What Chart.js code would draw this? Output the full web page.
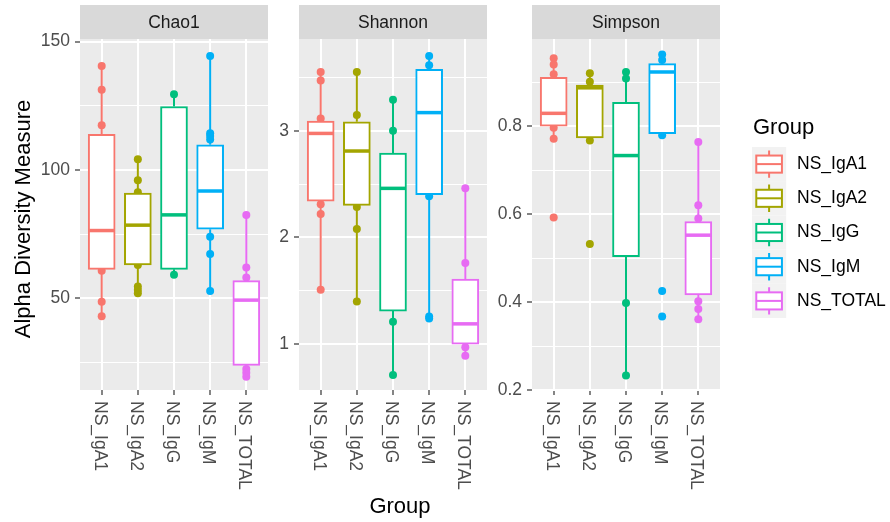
<!DOCTYPE html>
<html>
<head>
<title>Alpha diversity by group</title>
<script src="https://cdn.jsdelivr.net/npm/chart.js@4.4.1/dist/chart.umd.min.js"></script>
<style>
  body { margin: 0; background: #fff; }
  #wrap { position: relative; width: 890px; height: 522px; }
  #wrap canvas { position: absolute; left: 0; top: 0; }
</style>
</head>
<body>
<div id="wrap">
  <canvas id="chao1" width="890" height="522"></canvas>
  <canvas id="shannon" width="890" height="522"></canvas>
  <canvas id="simpson" width="890" height="522"></canvas>
</div>
<script>
const groups = ['NS_IgA1', 'NS_IgA2', 'NS_IgG', 'NS_IgM', 'NS_TOTAL'];
const groupColors = ['#F8766D', '#A3A500', '#00BF7D', '#00B0F6', '#E76BF3'];

// Chao1 box stats (whisker low, Q1, median, Q3, whisker high) per group
const chao1Low = [43.0, 52.0, 59.2, 52.9, 19.5];
const chao1Q1 = [61.3, 63.0, 61.3, 76.9, 23.9];
const chao1Med = [76.4, 78.5, 82.5, 91.8, 49.3];
const chao1Q3 = [113.9, 91.0, 124.7, 109.8, 56.9];
const chao1High = [140.5, 104.2, 129.5, 144.4, 82.5];
const chao1Points = [
  [140.5, 131.2, 117.4, 60.7, 48.7, 43.0],
  [104.2, 96.0, 91.3, 63.0, 54.6, 53.2, 52.0],
  [129.5, 59.2],
  [144.4, 114.3, 113.2, 111.9, 74.0, 67.3, 52.9],
  [82.5, 62.0, 58.1, 22.5, 21.0, 19.5]
];

const shannonLow = [1.51, 1.40, 0.71, 1.24, 0.89];
const shannonQ1 = [2.34, 2.30, 1.31, 2.40, 1.00];
const shannonMed = [2.975, 2.81, 2.46, 3.17, 1.19];
const shannonQ3 = [3.09, 3.084, 2.79, 3.575, 1.61];
const shannonHigh = [3.55, 3.55, 3.29, 3.70, 2.46];
const shannonPoints = [
  [3.55, 3.47, 3.115, 2.31, 2.22, 1.51],
  [3.55, 3.147, 2.285, 2.08, 1.40],
  [3.29, 3.0, 1.21, 0.71],
  [3.70, 3.615, 2.385, 1.26, 1.24],
  [2.46, 1.76, 0.97, 0.89]
];

const simpsonLow = [0.771, 0.767, 0.233, 0.779, 0.361];
const simpsonQ1 = [0.800, 0.773, 0.503, 0.783, 0.416];
const simpsonMed = [0.829, 0.887, 0.733, 0.923, 0.552];
const simpsonQ3 = [0.911, 0.893, 0.854, 0.942, 0.583];
const simpsonHigh = [0.954, 0.920, 0.923, 0.963, 0.764];
const simpsonPoints = [
  [0.954, 0.940, 0.918, 0.796, 0.771, 0.592],
  [0.920, 0.901, 0.767, 0.532],
  [0.923, 0.908, 0.398, 0.233],
  [0.963, 0.950, 0.779, 0.425, 0.367],
  [0.764, 0.620, 0.590, 0.402, 0.384, 0.361]
];

// y gridlines: every value gets a line, only majors get a label and tick mark
const chao1Ticks = [25, 50, 75, 100, 125, 150];
const chao1Major = [50, 100, 150];
const shannonTicks = [1, 1.5, 2, 2.5, 3, 3.5];
const shannonMajor = [1, 2, 3];
const simpsonTicks = [0.2, 0.3, 0.4, 0.5, 0.6, 0.7, 0.8, 0.9];
const simpsonMajor = [0.2, 0.4, 0.6, 0.8];

const FONT = "'Liberation Sans', Arial, sans-serif";
const W = 890;
const PANEL_TOP = 39;
const PANEL_BOTTOM = 390;
const STRIP_TOP = 5;
const BOX_WIDTH = 27;
const SMALL = 17.5;
const TITLE = 22;

// grey panel, strip label, whiskers, medians and rotated category labels
const facetPlugin = {
  id: 'facet',
  beforeDraw(chart, args, opts) {
    const a = chart.chartArea, ctx = chart.ctx;
    ctx.save();
    ctx.fillStyle = '#EBEBEB';
    ctx.fillRect(a.left, a.top, a.right - a.left, a.bottom - a.top);
    ctx.fillStyle = '#D9D9D9';
    ctx.fillRect(a.left, STRIP_TOP, a.right - a.left, a.top - STRIP_TOP);
    ctx.fillStyle = '#1A1A1A';
    ctx.font = SMALL + 'px ' + FONT;
    ctx.textAlign = 'center';
    ctx.textBaseline = 'middle';
    ctx.fillText(opts.strip, (a.left + a.right) / 2, (STRIP_TOP + a.top) / 2 + 1);
    ctx.restore();
  },
  afterDatasetsDraw(chart, args, opts) {
    const x = chart.scales.x, y = chart.scales.y, ctx = chart.ctx;
    const s = opts.stats;
    ctx.save();
    groups.forEach((g, i) => {
      const px = x.getPixelForValue(i + 1);
      ctx.strokeStyle = groupColors[i];
      ctx.lineWidth = 2;
      ctx.beginPath();
      ctx.moveTo(px, y.getPixelForValue(s.q3[i]));
      ctx.lineTo(px, y.getPixelForValue(s.high[i]));
      ctx.moveTo(px, y.getPixelForValue(s.q1[i]));
      ctx.lineTo(px, y.getPixelForValue(s.low[i]));
      ctx.stroke();
      const my = y.getPixelForValue(s.med[i]);
      ctx.lineWidth = 3.5;
      ctx.beginPath();
      ctx.moveTo(px - BOX_WIDTH / 2 + 1, my);
      ctx.lineTo(px + BOX_WIDTH / 2 - 1, my);
      ctx.stroke();
    });
    ctx.restore();
  },
  afterDraw(chart) {
    const x = chart.scales.x, ctx = chart.ctx, a = chart.chartArea;
    ctx.save();
    ctx.font = SMALL + 'px ' + FONT;
    ctx.fillStyle = '#4D4D4D';
    ctx.textAlign = 'left';
    ctx.textBaseline = 'middle';
    groups.forEach((g, i) => {
      ctx.save();
      ctx.translate(x.getPixelForValue(i + 1) - 2, a.bottom + 11);
      ctx.rotate(Math.PI / 2);
      ctx.fillText(g, 0, 0);
      ctx.restore();
    });
    ctx.restore();
  }
};

// axis titles and the group legend
const pageTextPlugin = {
  id: 'pageText',
  afterDraw(chart) {
    const ctx = chart.ctx;
    ctx.save();
    ctx.fillStyle = '#000';
    ctx.font = TITLE + 'px ' + FONT;
    ctx.textAlign = 'center';
    ctx.textBaseline = 'middle';
    ctx.fillText('Group', 400, 507);
    ctx.save();
    ctx.translate(24, 219);
    ctx.rotate(-Math.PI / 2);
    ctx.fillText('Alpha Diversity Measure', 0, 0);
    ctx.restore();

    ctx.textAlign = 'left';
    ctx.fillText('Group', 753, 128);
    const key = 34.2, left = 752, top0 = 147;
    groups.forEach((g, i) => {
      const top = top0 + i * key;
      ctx.fillStyle = '#F2F2F2';
      ctx.fillRect(left, top, key, key);
      const cx = left + key / 2, bx = left + key * 0.125, bw = key * 0.75;
      ctx.strokeStyle = groupColors[i];
      ctx.lineWidth = 2;
      ctx.beginPath();
      ctx.moveTo(cx, top + key * 0.1); ctx.lineTo(cx, top + key * 0.25);
      ctx.moveTo(cx, top + key * 0.75); ctx.lineTo(cx, top + key * 0.9);
      ctx.stroke();
      ctx.fillStyle = '#fff';
      ctx.fillRect(bx, top + key * 0.25, bw, key * 0.5);
      ctx.strokeRect(bx, top + key * 0.25, bw, key * 0.5);
      ctx.beginPath();
      ctx.moveTo(bx, top + key / 2); ctx.lineTo(bx + bw, top + key / 2);
      ctx.stroke();
      ctx.fillStyle = '#000';
      ctx.font = SMALL + 'px ' + FONT;
      ctx.fillText(g, 797, top + key / 2);
    });
    ctx.restore();
  }
};

function makePanel(id, p) {
  const boxes = groups.map((g, i) => ({ x: i + 1, y: [p.q1[i], p.q3[i]] }));
  const pts = [];
  p.points.forEach((vals, i) => vals.forEach(v => pts.push({ x: i + 1, y: v })));
  const plugins = [facetPlugin];
  if (p.extra) plugins.push(p.extra);

  return new Chart(document.getElementById(id), {
    type: 'bar',
    data: {
      datasets: [
        {
          type: 'bar',
          data: boxes,
          backgroundColor: '#FFFFFF',
          borderColor: groupColors,
          borderWidth: 2,
          borderSkipped: false,
          barThickness: BOX_WIDTH,
          order: 0
        },
        {
          type: 'scatter',
          data: pts,
          pointRadius: 4,
          pointHoverRadius: 4,
          pointBorderWidth: 0,
          pointBackgroundColor: c => groupColors[c.raw.x - 1],
          order: 1
        }
      ]
    },
    options: {
      responsive: false,
      animation: false,
      events: [],
      layout: { padding: { left: p.left - p.axisWidth, right: W - p.right, top: PANEL_TOP, bottom: 0 } },
      plugins: {
        legend: { display: false },
        tooltip: { enabled: false },
        facet: { strip: p.strip, stats: p }
      },
      scales: {
        x: {
          type: 'linear',
          min: 0.4,
          max: 5.6,
          offset: false,
          afterBuildTicks: s => { s.ticks = groups.map((g, i) => ({ value: i + 1 })); },
          afterFit: s => { s.height = 522 - PANEL_BOTTOM; },
          ticks: { display: false },
          grid: { offset: false, color: '#FFFFFF', lineWidth: 2, tickLength: 5, tickColor: '#333333', tickWidth: 1.2 },
          border: { display: false }
        },
        y: {
          type: 'linear',
          min: p.min,
          max: p.max,
          afterBuildTicks: s => { s.ticks = p.ticks.map(v => ({ value: v })); },
          afterFit: s => { s.width = p.axisWidth; },
          ticks: {
            color: '#4D4D4D',
            font: { family: FONT, size: SMALL },
            padding: 5,
            callback: v => p.major.includes(v) ? String(v) : ''
          },
          grid: {
            color: '#FFFFFF',
            lineWidth: c => p.major.includes(c.tick.value) ? 2 : 1,
            tickLength: 5,
            tickWidth: 1.2,
            tickColor: c => p.major.includes(c.tick.value) ? '#333333' : 'rgba(0,0,0,0)'
          },
          border: { display: false }
        }
      }
    },
    plugins: plugins
  });
}

makePanel('chao1', {
  strip: 'Chao1', left: 80, right: 268, axisWidth: 60, min: 14.3, max: 151.0,
  ticks: chao1Ticks, major: chao1Major,
  low: chao1Low, q1: chao1Q1, med: chao1Med, q3: chao1Q3, high: chao1High, points: chao1Points
});
makePanel('shannon', {
  strip: 'Shannon', left: 299, right: 487, axisWidth: 30, min: 0.57, max: 3.86,
  ticks: shannonTicks, major: shannonMajor,
  low: shannonLow, q1: shannonQ1, med: shannonMed, q3: shannonQ3, high: shannonHigh, points: shannonPoints
});
makePanel('simpson', {
  strip: 'Simpson', left: 532, right: 720, axisWidth: 40, min: 0.2, max: 0.998,
  ticks: simpsonTicks, major: simpsonMajor,
  low: simpsonLow, q1: simpsonQ1, med: simpsonMed, q3: simpsonQ3, high: simpsonHigh, points: simpsonPoints,
  extra: pageTextPlugin
});
</script>
</body>
</html>
